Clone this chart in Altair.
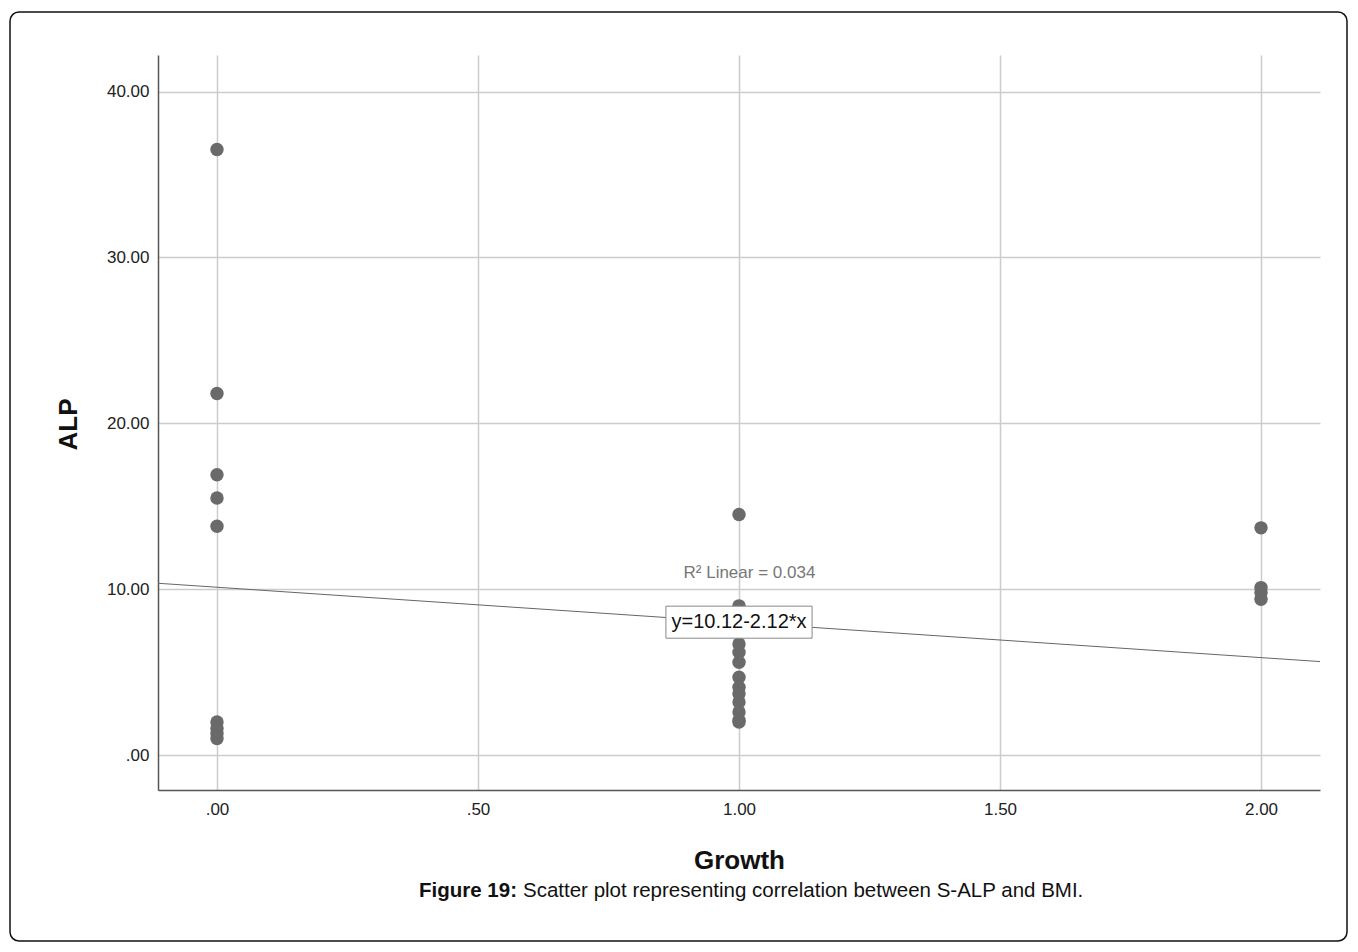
import altair as alt
import pandas as pd

# ---- data ----
growth = [0, 0, 0, 0, 0, 0, 0, 0, 0,
          1, 1, 1, 1, 1, 1, 1, 1, 1, 1, 1, 1, 1, 1,
          2, 2, 2, 2]
alp = [36.5, 21.8, 16.9, 15.5, 13.8, 2.0, 1.6, 1.3, 1.0,
       14.5, 9.0, 8.2, 7.4, 6.7, 6.2, 5.6, 4.7, 4.1, 3.7, 3.2, 2.6, 2.1, 2.0,
       13.7, 10.1, 9.8, 9.4]

intercept = 10.12
slope = -2.12
x_domain = [-0.113, 2.113]
y_domain = [-2.1, 42.2]
x_ticks = [0, 0.5, 1, 1.5, 2]
y_ticks = [0, 10, 20, 30, 40]

r2_label = "R² Linear = 0.034"
r2_pos = [1.02, 11.0]
eq_label = "y=10.12-2.12*x"
eq_box = [0.86, 1.14, 7.05, 8.98]   # x1, x2, y1, y2 in data units
eq_pos = [1.0, 8.0]

caption_bold = "Figure 19:"
caption_rest = "Scatter plot representing correlation between S-ALP and BMI."

FONT = "Liberation Sans"
W, H = 1162, 735
LEFT, TOP = 158, 55

pts = pd.DataFrame({"Growth": growth, "ALP": alp})
line_df = pd.DataFrame({"Growth": x_domain})

xs = alt.Scale(domain=x_domain, nice=False, zero=False)
ys = alt.Scale(domain=y_domain, nice=False, zero=False)

LABEL_EXPR = "datum.value < 1 ? substring(format(datum.value, '.2f'), 1) : format(datum.value, '.2f')"

x_axis = alt.Axis(values=x_ticks, grid=True, ticks=False, labelPadding=11,
                  labelExpr=LABEL_EXPR,
                  title="Growth", titleX=581, titleY=70, titleAlign="center",
                  titleBaseline="middle", titleFontSize=26, titleFontWeight="bold",
                  titleColor="#111", titleFont=FONT)
y_axis = alt.Axis(values=y_ticks, grid=True, ticks=False, labelPadding=9,
                  labelExpr=LABEL_EXPR,
                  title="ALP", titleX=-90, titleY=369, titleAngle=270, titleAlign="center",
                  titleBaseline="middle", titleFontSize=26, titleFontWeight="bold",
                  titleColor="#111", titleFont=FONT)

points = alt.Chart(pts).mark_circle(size=180, color="#6a6a6a", opacity=1).encode(
    x=alt.X("Growth:Q", scale=xs, axis=x_axis),
    y=alt.Y("ALP:Q", scale=ys, axis=y_axis),
)

fit = alt.Chart(line_df).transform_calculate(
    ALPfit=f"{intercept} + ({slope}) * datum.Growth"
).mark_line(color="#666666", strokeWidth=1).encode(
    x=alt.X("Growth:Q", scale=xs),
    y=alt.Y("ALPfit:Q", scale=ys),
)

r2 = alt.Chart(pd.DataFrame({"x": [r2_pos[0]], "y": [r2_pos[1]], "t": [r2_label]})).mark_text(
    font=FONT, fontSize=17, color="#777777", align="center", baseline="middle"
).encode(x=alt.X("x:Q", scale=xs), y=alt.Y("y:Q", scale=ys), text="t:N")

box = alt.Chart(pd.DataFrame({"x1": [eq_box[0]], "x2": [eq_box[1]], "y1": [eq_box[2]], "y2": [eq_box[3]]})).mark_rect(
    fill="white", stroke="#888888", strokeWidth=1
).encode(x=alt.X("x1:Q", scale=xs), x2="x2:Q", y=alt.Y("y1:Q", scale=ys), y2="y2:Q")

eq = alt.Chart(pd.DataFrame({"x": [eq_pos[0]], "y": [eq_pos[1]], "t": [eq_label]})).mark_text(
    font=FONT, fontSize=20, color="#111111", align="center", baseline="middle"
).encode(x=alt.X("x:Q", scale=xs), y=alt.Y("y:Q", scale=ys), text="t:N")

frame = alt.Chart(pd.DataFrame({"a": [0]})).mark_rect(
    fill=None, stroke="#111111", strokeWidth=1.5, cornerRadius=9
).encode(x=alt.value(10 - LEFT), x2=alt.value(1347 - LEFT),
         y=alt.value(12 - TOP), y2=alt.value(941 - TOP))

cap1 = alt.Chart(pd.DataFrame({"t": [caption_bold]})).mark_text(
    font=FONT, fontSize=20.5, fontWeight="bold", color="#111", align="right", baseline="middle"
).encode(x=alt.value(517 - LEFT), y=alt.value(891 - TOP), text="t:N")

cap2 = alt.Chart(pd.DataFrame({"t": [caption_rest]})).mark_text(
    font=FONT, fontSize=20.5, color="#111", align="left", baseline="middle"
).encode(x=alt.value(523 - LEFT), y=alt.value(891 - TOP), text="t:N")

chart = alt.layer(fit, points, box, eq, r2, frame, cap1, cap2).properties(
    width=W, height=H,
    autosize=alt.AutoSizeParams(type="none"),
    padding={"left": LEFT, "top": TOP, "right": 1358 - LEFT - W, "bottom": 952 - TOP - H},
    background="white",
).configure_view(stroke=None).configure_axis(
    domainColor="#555555", domainWidth=1.5,
    gridColor="#cccccc", gridWidth=1.5,
    labelFont=FONT, labelFontSize=17, labelColor="#222222",
)

chart.save("out.html", embed_options={"renderer": "svg", "actions": False})
